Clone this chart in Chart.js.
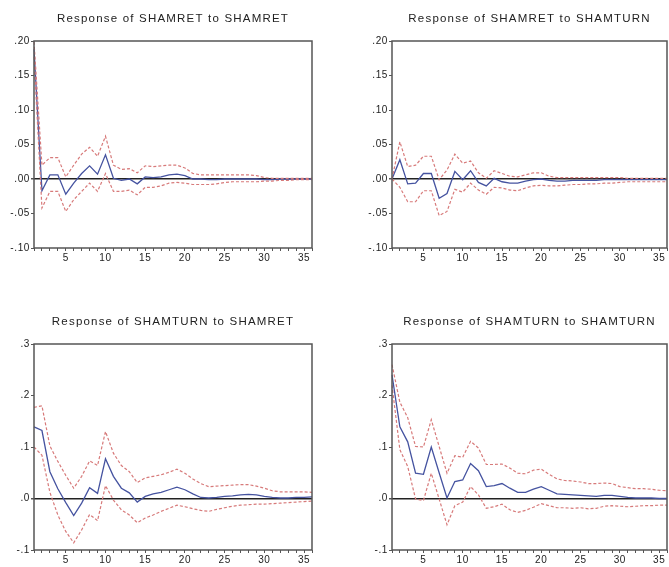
<!DOCTYPE html>
<html>
<head>
<meta charset="utf-8">
<script src="https://cdn.jsdelivr.net/npm/chart.js@4/dist/chart.umd.min.js"></script>
<style>
  body { margin: 0; background: #fff; }
  #wrap { position: relative; width: 669px; height: 567px; }
  canvas { position: absolute; }
</style>
</head>
<body>
<div id="wrap">
  <canvas id="c1" width="334" height="283" style="left:0;top:0"></canvas>
  <canvas id="c2" width="334" height="283" style="left:335px;top:0"></canvas>
  <canvas id="c3" width="334" height="284" style="left:0;top:283px"></canvas>
  <canvas id="c4" width="334" height="284" style="left:335px;top:283px"></canvas>
</div>
<script>
const periods = [1,2,3,4,5,6,7,8,9,10,11,12,13,14,15,16,17,18,19,20,21,22,23,24,25,26,27,28,29,30,31,32,33,34,35,36];

const titles = [
  "Response of SHAMRET to SHAMRET",
  "Response of SHAMRET to SHAMTURN",
  "Response of SHAMTURN to SHAMRET",
  "Response of SHAMTURN to SHAMTURN"
];

// y ticks
const yTicksTop = [-0.10, -0.05, 0, 0.05, 0.10, 0.15, 0.20];
const yLabelsTop = ["-.10", "-.05", ".00", ".05", ".10", ".15", ".20"];
const yTicksBottom = [-0.1, 0, 0.1, 0.2, 0.3];
const yLabelsBottom = ["-.1", ".0", ".1", ".2", ".3"];

// SHAMRET to SHAMRET
const resp11 = [0.188,-0.017,0.006,0.006,-0.022,-0.006,0.008,0.019,0.007,0.035,0.001,-0.002,0.000,-0.007,0.003,0.002,0.003,0.006,0.007,0.005,0.000,0.000,-0.001,-0.001,0.000,0.000,0.000,0.000,0.000,-0.001,-0.001,0.000,0.000,0.000,0.000,0.000];
const up11 = [0.199,0.020,0.031,0.031,0.003,0.020,0.036,0.046,0.033,0.062,0.020,0.014,0.015,0.009,0.019,0.018,0.019,0.020,0.020,0.016,0.008,0.006,0.006,0.006,0.006,0.006,0.006,0.006,0.005,0.002,0.001,0.001,0.001,0.001,0.001,0.001];
const lo11 = [0.177,-0.042,-0.018,-0.018,-0.047,-0.030,-0.018,-0.006,-0.018,0.008,-0.018,-0.018,-0.016,-0.023,-0.012,-0.012,-0.010,-0.006,-0.005,-0.006,-0.008,-0.008,-0.008,-0.007,-0.005,-0.004,-0.004,-0.004,-0.004,-0.003,-0.003,-0.002,-0.002,-0.001,-0.001,-0.001];

// SHAMRET to SHAMTURN
const resp12 = [0.000,0.028,-0.007,-0.006,0.008,0.008,-0.028,-0.021,0.011,-0.001,0.012,-0.005,-0.010,0.001,-0.004,-0.006,-0.006,-0.003,-0.001,0.000,-0.002,-0.003,-0.003,-0.002,-0.002,-0.002,-0.002,-0.001,-0.001,-0.001,-0.001,-0.001,-0.001,-0.001,-0.001,-0.001];
const up12 = [0.000,0.054,0.018,0.020,0.033,0.033,-0.001,0.013,0.036,0.023,0.026,0.009,0.001,0.012,0.008,0.004,0.003,0.006,0.009,0.009,0.004,0.002,0.002,0.002,0.002,0.002,0.002,0.002,0.002,0.002,0.001,0.001,0.001,0.001,0.001,0.001];
const lo12 = [0.000,-0.012,-0.033,-0.033,-0.017,-0.017,-0.053,-0.047,-0.015,-0.019,-0.006,-0.016,-0.022,-0.012,-0.013,-0.016,-0.017,-0.013,-0.010,-0.009,-0.010,-0.010,-0.009,-0.008,-0.008,-0.007,-0.007,-0.006,-0.006,-0.005,-0.004,-0.004,-0.004,-0.004,-0.004,-0.004];

// SHAMTURN to SHAMRET
const resp21 = [0.139,0.132,0.052,0.019,-0.008,-0.033,-0.009,0.021,0.010,0.077,0.043,0.020,0.011,-0.007,0.004,0.009,0.012,0.017,0.022,0.017,0.009,0.002,0.001,0.002,0.004,0.005,0.007,0.008,0.007,0.004,0.002,0.001,0.001,0.002,0.002,0.003];
const up21 = [0.177,0.180,0.102,0.072,0.045,0.020,0.043,0.073,0.064,0.130,0.088,0.064,0.052,0.031,0.040,0.043,0.046,0.051,0.057,0.049,0.038,0.029,0.023,0.024,0.025,0.026,0.027,0.027,0.024,0.020,0.015,0.013,0.013,0.013,0.013,0.012];
const lo21 = [0.100,0.084,0.012,-0.032,-0.064,-0.086,-0.061,-0.031,-0.043,0.025,-0.003,-0.022,-0.032,-0.047,-0.038,-0.032,-0.025,-0.019,-0.013,-0.016,-0.020,-0.023,-0.025,-0.021,-0.018,-0.015,-0.013,-0.012,-0.011,-0.011,-0.010,-0.009,-0.008,-0.007,-0.006,-0.005];

// SHAMTURN to SHAMTURN
const resp22 = [0.240,0.139,0.110,0.049,0.047,0.100,0.050,0.001,0.033,0.036,0.068,0.054,0.023,0.025,0.029,0.020,0.012,0.012,0.018,0.023,0.016,0.009,0.008,0.007,0.006,0.005,0.004,0.006,0.006,0.004,0.002,0.001,0.001,0.001,0.000,0.000];
const up22 = [0.260,0.187,0.157,0.101,0.100,0.153,0.101,0.049,0.083,0.080,0.111,0.098,0.066,0.066,0.067,0.059,0.049,0.048,0.055,0.057,0.047,0.038,0.035,0.034,0.032,0.029,0.029,0.030,0.029,0.023,0.021,0.019,0.019,0.018,0.016,0.015];
const lo22 = [0.220,0.095,0.062,-0.001,-0.004,0.049,-0.001,-0.051,-0.014,-0.007,0.023,0.007,-0.019,-0.016,-0.011,-0.022,-0.027,-0.023,-0.017,-0.010,-0.014,-0.018,-0.018,-0.019,-0.018,-0.020,-0.019,-0.015,-0.014,-0.015,-0.016,-0.015,-0.014,-0.014,-0.013,-0.013];

const FONT = "'Liberation Sans', Arial, sans-serif";
const respColor = "#4553a0";
const bandColor = "#d77a7a";

// box round the plot
const framePlugin = {
  id: "frame",
  beforeDraw(chart) { chart.ctx.letterSpacing = "0.6px"; },
  afterDatasetsDraw(chart) {
    const { ctx, chartArea: a } = chart;
    ctx.save();
    ctx.strokeStyle = "#555";
    ctx.lineWidth = 1.5;
    ctx.strokeRect(a.left, a.top, a.right - a.left, a.bottom - a.top);
    ctx.restore();
  }
};

function titlePlugin(text) {
  return {
    id: "panelTitle",
    afterDraw(chart) {
      const { ctx, chartArea: a } = chart;
      ctx.save();
      ctx.font = "11.5px " + FONT;
      ctx.letterSpacing = "1.2px";
      ctx.fillStyle = "#222";
      ctx.textAlign = "center";
      ctx.textBaseline = "middle";
      ctx.fillText(text, (a.left + a.right) / 2, a.top - 22);
      ctx.restore();
    }
  };
}

function drawPanel(id, title, resp, upper, lower, yTicks, yLabels, axisWidth, pad) {
  const band = { borderColor: bandColor, borderWidth: 1.2, borderDash: [3, 2] };
  new Chart(document.getElementById(id), {
    type: "line",
    data: {
      labels: periods,
      datasets: [
        { ...band, data: upper },
        { ...band, data: lower },
        { data: resp, borderColor: respColor, borderWidth: 1.3 }
      ]
    },
    options: {
      responsive: false,
      animation: false,
      devicePixelRatio: 1,
      layout: { padding: pad },
      elements: { point: { radius: 0 }, line: { tension: 0 } },
      plugins: { legend: { display: false }, tooltip: { enabled: false } },
      scales: {
        x: {
          offset: false,
          border: { display: false },
          grid: { drawOnChartArea: false, tickLength: 3, color: "#555" },
          ticks: {
            autoSkip: false, maxRotation: 0, padding: 1, color: "#222",
            font: { family: FONT, size: 10 },
            callback: (v, i) => (periods[i] % 5 === 0 ? String(periods[i]) : "")
          },
          afterFit(s) { s.height = 17; }
        },
        y: {
          min: yTicks[0],
          max: yTicks[yTicks.length - 1],
          afterBuildTicks(s) { s.ticks = yTicks.map(v => ({ value: v })); },
          border: { display: false },
          grid: {
            color: c => (c.tick && c.tick.value === 0 ? "#222" : "rgba(0,0,0,0)"),
            lineWidth: c => (c.tick && c.tick.value === 0 ? 1.5 : 1),
            tickColor: "#555",
            tickLength: 3
          },
          ticks: {
            padding: 1, color: "#222",
            font: { family: FONT, size: 10 },
            callback: (v, i) => yLabels[i]
          },
          afterFit(s) { s.width = axisWidth; }
        }
      }
    },
    plugins: [framePlugin, titlePlugin(title)]
  });
}

drawPanel("c1", titles[0], resp11, up11, lo11, yTicksTop, yLabelsTop, 34, { top: 41, right: 22, bottom: 18, left: 0 });
drawPanel("c2", titles[1], resp12, up12, lo12, yTicksTop, yLabelsTop, 57, { top: 41, right: 2, bottom: 18, left: 0 });
drawPanel("c3", titles[2], resp21, up21, lo21, yTicksBottom, yLabelsBottom, 34, { top: 61, right: 22, bottom: 0, left: 0 });
drawPanel("c4", titles[3], resp22, up22, lo22, yTicksBottom, yLabelsBottom, 57, { top: 61, right: 2, bottom: 0, left: 0 });
</script>
</body>
</html>
